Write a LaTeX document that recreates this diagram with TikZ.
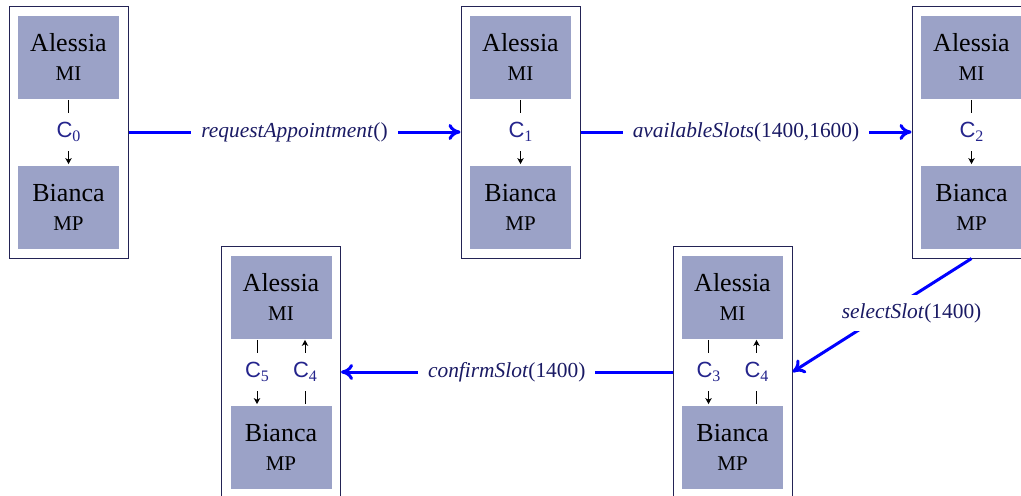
\documentclass[tikz,border=0pt]{standalone}
\usepackage{fontspec}
\setmainfont{Liberation Serif}
\newfontfamily\csans{Liberation Sans}
\usetikzlibrary{arrows.meta}
\definecolor{boxfill}{RGB}{155,162,199}
\definecolor{msgtext}{RGB}{26,26,100}
\definecolor{chantext}{RGB}{36,36,140}
\definecolor{framecol}{RGB}{35,35,85}
\newcommand{\chan}[1]{{\csans C}\raisebox{-0.4ex}{\fontsize{8}{9}\selectfont #1}}
\newcommand{\agentname}[2]{#1\\[0.5pt]{\fontsize{10.5}{12}\selectfont #2}}
\begin{document}
\begin{tikzpicture}[x=0.5pt,y=-0.5pt,
  frame/.style={draw=framecol, line width=0.5pt, minimum width=59.5pt, minimum height=126pt, inner sep=0pt},
  agent/.style={fill=boxfill, minimum width=50.5pt, minimum height=41.5pt, align=center, inner sep=0pt, font=\fontsize{13}{14}\selectfont},
  chlabel/.style={fill=white, minimum height=19pt, inner sep=1pt, text=chantext, font=\fontsize{11}{12}\selectfont},
  ch/.style={-{Stealth[length=3pt,width=3.2pt,inset=0.8pt]}, line width=0.5pt, shorten <=0.5pt, shorten >=0.5pt},
  msg/.style={-{To[length=6pt,width=8pt]}, line width=1.5pt, draw=blue},
  msglabel/.style={fill=white, text=msgtext, inner sep=5pt, font=\fontsize{10.7}{12}\selectfont}]
\useasboundingbox (0,0) rectangle (1021,495);

% top row
\node[frame] (f0) at (68.5,132) {};
\node[agent] (a0) at (68.5,57) {\agentname{Alessia}{MI}};
\node[agent] (p0) at (68.5,207) {\agentname{Bianca}{MP}};

\node[frame] (f1) at (520.5,132) {};
\node[agent] (a1) at (520.5,57) {\agentname{Alessia}{MI}};
\node[agent] (p1) at (520.5,207) {\agentname{Bianca}{MP}};

\node[frame] (f2) at (971.5,132) {};
\node[agent] (a2) at (971.5,57) {\agentname{Alessia}{MI}};
\node[agent] (p2) at (971.5,207) {\agentname{Bianca}{MP}};

% bottom row
\node[frame] (f5) at (281,372) {};
\node[agent] (a5) at (281,297) {\agentname{Alessia}{MI}};
\node[agent] (p5) at (281,447) {\agentname{Bianca}{MP}};

\node[frame] (f4) at (732.5,372) {};
\node[agent] (a4) at (732.5,297) {\agentname{Alessia}{MI}};
\node[agent] (p4) at (732.5,447) {\agentname{Bianca}{MP}};

% channels
\draw[ch] (a0.south) -- node[chlabel]{\chan{0}} (p0.north);
\draw[ch] (a1.south) -- node[chlabel]{\chan{1}} (p1.north);
\draw[ch] (a2.south) -- node[chlabel]{\chan{2}} (p2.north);

\draw[ch] ([xshift=-12pt]a5.south) -- node[chlabel]{\chan{5}} ([xshift=-12pt]p5.north);
\draw[ch] ([xshift=12pt]p5.north) -- node[chlabel]{\chan{4}} ([xshift=12pt]a5.south);

\draw[ch] ([xshift=-12pt]a4.south) -- node[chlabel]{\chan{3}} ([xshift=-12pt]p4.north);
\draw[ch] ([xshift=12pt]p4.north) -- node[chlabel]{\chan{4}} ([xshift=12pt]a4.south);

% messages
\draw[msg] (f0) -- node[msglabel]{\textit{requestAppointment}()} (f1);
\draw[msg] (f1) -- node[msglabel]{\textit{availableSlots}(1400,1600)} (f2);
\draw[msg] (f2.south) -- node[msglabel, pos=0.48, xshift=13pt, inner sep=4pt]{\textit{selectSlot}(1400)} (f4.east);
\draw[msg] (f4) -- node[msglabel]{\textit{confirmSlot}(1400)} (f5);
\end{tikzpicture}
\end{document}
